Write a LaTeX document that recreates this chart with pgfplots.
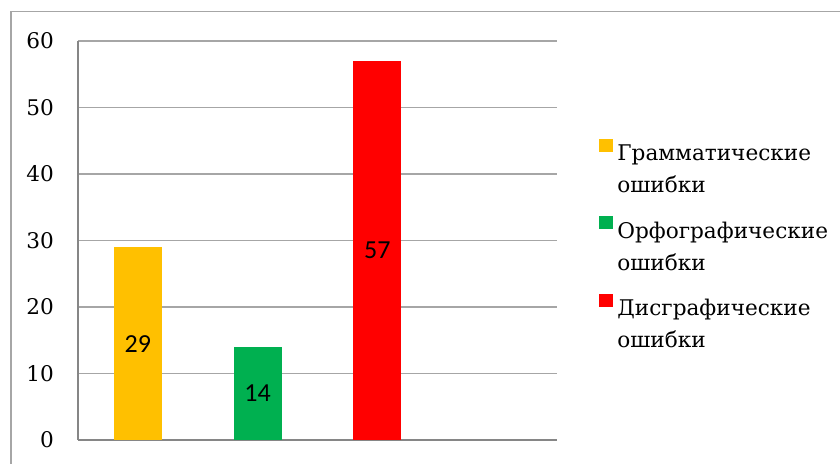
\documentclass[border=0pt]{standalone}
\usepackage{fontspec}
\setmainfont{DejaVu Serif}
\newfontfamily\tnr{DejaVu Serif}
\newfontfamily\calib{Carlito}
\usepackage{pgfplots}
\pgfplotsset{compat=1.18}
\definecolor{cOrange}{HTML}{FFC000}
\definecolor{cGreen}{HTML}{00B050}
\definecolor{cRed}{HTML}{FF0000}
\definecolor{cGrid}{RGB}{166,166,166}
\definecolor{cAxis}{RGB}{134,134,134}
\begin{document}
\begin{tikzpicture}
\useasboundingbox (0,0) rectangle (420pt,232pt);
\draw[cGrid, line width=0.9pt] (5.5pt,-2pt) -- (5.5pt,226.2pt) -- (425pt,226.2pt);
\begin{axis}[
  at={(39pt,12pt)}, anchor=south west,
  scale only axis, width=239.5pt, height=199.5pt,
  xmin=0, xmax=4, ymin=0, ymax=60,
  ytick={0,10,...,60}, xtick=\empty,
  axis x line*=bottom, axis y line*=left,
  axis line style={cAxis, line width=0.6pt, -},
  ymajorgrids, grid style={cGrid, line width=0.6pt},
  major tick length=0pt,
  /pgf/number format/assume math mode=true,
  yticklabel style={font=\tnr\fontsize{10.8}{13}\selectfont, xshift=-8.5pt},
  ybar, bar width=24pt, bar shift=0pt,
  legend style={draw=none, fill=none, at={(axis description cs:1,0.5)}, anchor=west, xshift=21pt, yshift=6pt,
    inner sep=0pt, row sep=22pt, font=\tnr\fontsize{10.8}{16}\selectfont,
    cells={anchor=west}},
  legend cell align=left,
  legend image code/.code={\fill[#1,draw=none] (0pt,-0.5pt) rectangle (7pt,6pt);},
]
\addplot[fill=cOrange, draw=none] coordinates {(0.5,29)};
\addlegendentry{\begin{tabular}[t]{@{}l@{}}Грамматические\\ошибки\end{tabular}}
\addplot[fill=cGreen, draw=none] coordinates {(1.5,14)};
\addlegendentry{\begin{tabular}[t]{@{}l@{}}Орфографические\\ошибки\end{tabular}}
\addplot[fill=cRed, draw=none] coordinates {(2.5,57)};
\addlegendentry{\begin{tabular}[t]{@{}l@{}}Дисграфические\\ошибки\end{tabular}}
\addplot[forget plot, draw=none, fill=none, only marks, mark=none,
  nodes near coords, point meta=explicit symbolic,
  nodes near coords style={anchor=center, font=\calib\fontsize{13}{15}\selectfont, text=black}]
  coordinates {(0.5,14.5) [29] (1.5,7) [14] (2.5,28.5) [57]};
\end{axis}
\end{tikzpicture}
\end{document}
